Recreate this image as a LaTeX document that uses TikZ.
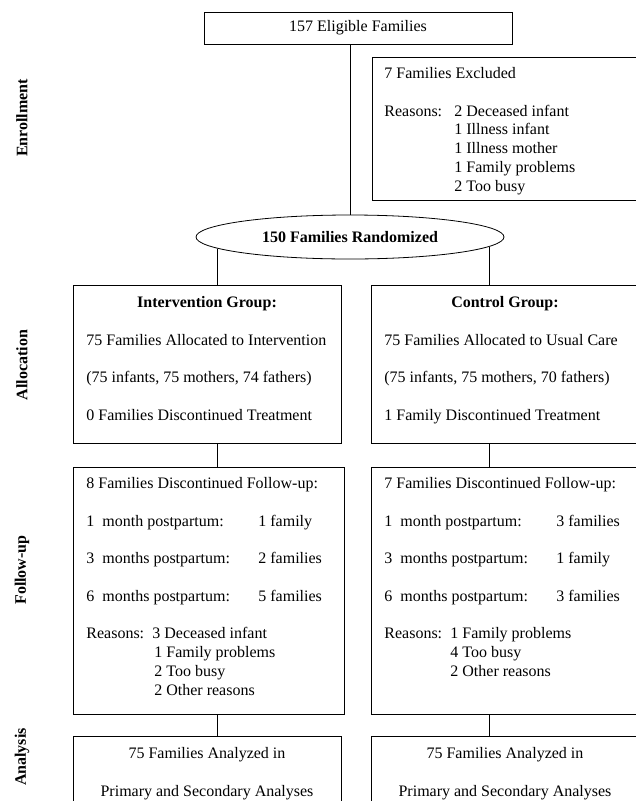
\documentclass[tikz,border=0pt]{standalone}
\usepackage{fontspec}
\setmainfont{Liberation Serif}
\usetikzlibrary{shapes.geometric}

\begin{document}
\begin{tikzpicture}[x=1pt,y=-1pt,line width=0.8pt,
    every node/.style={inner sep=0pt,font=\fontsize{16}{18.8}\selectfont},
    bold/.style={font=\fontsize{16}{18.8}\selectfont\bfseries},
    box/.style={draw,rectangle,minimum width=268pt},
    txt/.style={anchor=base west,align=left},
    stage/.style={bold,rotate=90}]
  \useasboundingbox (0,0) rectangle (636,801);

  % stages on the left
  \node[stage] (enrol) at (22,118) {Enrollment};
  \node[stage] (allocation) at (22,365) {Allocation};
  \node[stage] (followup) at (22,570) {Follow-up};
  \node[stage] (analysis) at (22,757) {Analysis};

  % enrollment (multi-line texts sit on the baseline of their last line)
  \node[box,minimum width=308pt,minimum height=32pt] (elig) at (358,28) {157 Eligible Families};
  \node[box,minimum width=266pt,minimum height=143pt] (excl) at (505,128.5) {};
  \node[txt] (excltxt) at (384,191.3) {7 Families Excluded\\[18.8pt]
    \makebox[70pt][l]{Reasons:}2 Deceased infant\\
    \hspace*{70pt}1 Illness infant\\
    \hspace*{70pt}1 Illness mother\\
    \hspace*{70pt}1 Family problems\\
    \hspace*{70pt}2 Too busy};
  \node[draw,ellipse,bold,minimum width=308pt,minimum height=44pt] (rand) at (350,237) {150 Families Randomized};

  % allocation
  \node[box,minimum height=158pt] (intalloc) at (207,364) {};
  \node[box,minimum height=158pt] (conalloc) at (505,364) {};
  \node[bold,anchor=base] (inthead) at (207,307.5) {Intervention Group:};
  \node[bold,anchor=base] (conhead) at (505,307.5) {Control Group:};
  \node[txt] (intalloctxt) at (86,420.2) {75 Families Allocated to Intervention\\[18.8pt]
    (75 infants, 75 mothers, 74 fathers)\\[18.8pt]
    0 Families Discontinued Treatment};
  \node[txt] (conalloctxt) at (384,420.2) {75 Families Allocated to Usual Care\\[18.8pt]
    (75 infants, 75 mothers, 70 fathers)\\[18.8pt]
    1 Family Discontinued Treatment};

  % follow-up
  \node[box,minimum width=271pt,minimum height=247pt] (intfollow) at (208.5,590.5) {};
  \node[box,minimum height=247pt] (confollow) at (505,590.5) {};
  \node[txt] (intfollowtxt) at (86,695.3) {8 Families Discontinued Follow-up:\\[18.8pt]
    \makebox[172pt][l]{1\ \ month postpartum:}1 family\\[18.8pt]
    \makebox[172pt][l]{3\ \ months postpartum:}2 families\\[18.8pt]
    \makebox[172pt][l]{6\ \ months postpartum:}5 families\\[18.8pt]
    \makebox[66pt][l]{Reasons:}3 Deceased infant\\
    \hspace*{68pt}1 Family problems\\
    \hspace*{68pt}2 Too busy\\
    \hspace*{68pt}2 Other reasons};
  \node[txt] (confollowtxt) at (384,676.5) {7 Families Discontinued Follow-up:\\[18.8pt]
    \makebox[172pt][l]{1\ \ month postpartum:}3 families\\[18.8pt]
    \makebox[172pt][l]{3\ \ months postpartum:}1 family\\[18.8pt]
    \makebox[172pt][l]{6\ \ months postpartum:}3 families\\[18.8pt]
    \makebox[66pt][l]{Reasons:}1 Family problems\\
    \hspace*{66pt}4 Too busy\\
    \hspace*{66pt}2 Other reasons};

  % analysis
  \node[box,minimum height=75pt] (intanal) at (207,773.5) {};
  \node[box,minimum height=75pt] (conanal) at (505,773.5) {};
  \node[anchor=base,align=center] (intanaltxt) at (207,796.1) {75 Families Analyzed in\\[18.8pt]
    Primary and Secondary Analyses};
  \node[anchor=base,align=center] (conanaltxt) at (505,796.1) {75 Families Analyzed in\\[18.8pt]
    Primary and Secondary Analyses};

  % connectors
  \draw (rand.north |- elig.south) -- (rand.north);
  \draw (rand.185) -- (rand.185 |- intalloc.north);
  \draw (rand.-4.3) -- (rand.-4.3 |- conalloc.north);
  \draw (rand.185 |- intalloc.south) -- (rand.185 |- intfollow.north);
  \draw (rand.-4.3 |- conalloc.south) -- (rand.-4.3 |- confollow.north);
  \draw (rand.185 |- intfollow.south) -- (rand.185 |- intanal.north);
  \draw (rand.-4.3 |- confollow.south) -- (rand.-4.3 |- conanal.north);
\end{tikzpicture}
\end{document}
